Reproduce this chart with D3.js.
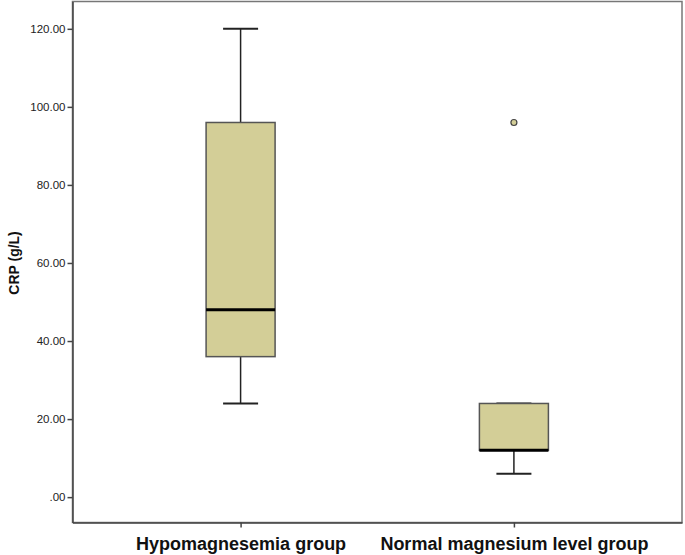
<!DOCTYPE html>
<html>
<head>
<meta charset="utf-8">
<script src="https://cdn.jsdelivr.net/npm/d3@7/dist/d3.min.js"></script>
<style>
body { margin: 0; background: #fff; }
text { font-family: "Liberation Sans", Arial, sans-serif; }
</style>
</head>
<body>
<svg id="chart" width="685" height="555"></svg>
<script>
// box plot data
var groups = ["Hypomagnesemia group", "Normal magnesium level group"];
var whiskerLow = [24, 6];
var q1 = [36, 12];
var median = [48, 12];
var q3 = [96, 24];
var whiskerHigh = [120, 24];
var outliers = [[], [96]];
var yTicks = [0, 20, 40, 60, 80, 100, 120];

var svg = d3.select("#chart");
var pLeft = 72.5, pRight = 682, pTop = 1.5, pBottom = 522.5;

var y = d3.scaleLinear().domain([-6.5, 127]).range([pBottom, pTop]);
var x = d3.scalePoint().domain(groups).range([pLeft, pRight]).padding(0.615);

var fill = "#d3ce97";
var boxW = 69, capW = 35;

// frame
svg.append("rect")
	.attr("x", pLeft).attr("y", pTop)
	.attr("width", pRight - pLeft).attr("height", pBottom - pTop)
	.attr("fill", "none").attr("stroke", "#777").attr("stroke-width", 1.5);

// y axis
var yAxis = svg.append("g")
	.attr("transform", "translate(" + pLeft + ",0)")
	.call(d3.axisLeft(y).tickValues(yTicks).tickSize(5).tickSizeOuter(0).tickPadding(2)
		.tickFormat(function(d){ return d == 0 ? ".00" : d3.format(".2f")(d); }));
yAxis.select(".domain").attr("stroke", "#444").attr("stroke-width", 1.5);
yAxis.selectAll(".tick line").attr("stroke", "#444").attr("stroke-width", 1.5);
yAxis.selectAll(".tick text").attr("font-size", 11.5).attr("fill", "#222");

// x axis
var xAxis = svg.append("g")
	.attr("transform", "translate(0," + pBottom + ")")
	.call(d3.axisBottom(x).tickSize(5).tickSizeOuter(0).tickPadding(10));
xAxis.select(".domain").attr("stroke", "#444").attr("stroke-width", 1.5);
xAxis.selectAll(".tick line").attr("stroke", "#444").attr("stroke-width", 1.5);
xAxis.selectAll(".tick text").attr("font-size", 18).attr("font-weight", "bold").attr("fill", "#111");

// y label
svg.append("text")
	.attr("transform", "translate(19," + y(60) + ") rotate(-90)")
	.attr("text-anchor", "middle")
	.attr("font-size", 14).attr("font-weight", "bold").attr("fill", "#111")
	.text("CRP (g/L)");

// boxes
groups.forEach(function(g, i){
	var cx = x(g);
	var grp = svg.append("g");
	// whiskers
	grp.append("line")
		.attr("x1", cx).attr("x2", cx)
		.attr("y1", y(q3[i])).attr("y2", y(whiskerHigh[i]))
		.attr("stroke", "#222").attr("stroke-width", 1.5);
	grp.append("line")
		.attr("x1", cx).attr("x2", cx)
		.attr("y1", y(q1[i])).attr("y2", y(whiskerLow[i]))
		.attr("stroke", "#222").attr("stroke-width", 1.5);
	[whiskerHigh[i], whiskerLow[i]].forEach(function(v){
		grp.append("line")
			.attr("x1", cx - capW/2).attr("x2", cx + capW/2)
			.attr("y1", y(v)).attr("y2", y(v))
			.attr("stroke", "#222").attr("stroke-width", 2);
	});
	// box
	grp.append("rect")
		.attr("x", cx - boxW/2).attr("width", boxW)
		.attr("y", y(q3[i])).attr("height", y(q1[i]) - y(q3[i]))
		.attr("fill", fill).attr("stroke", "#555").attr("stroke-width", 1.5);
	// median
	grp.append("line")
		.attr("x1", cx - boxW/2).attr("x2", cx + boxW/2)
		.attr("y1", y(median[i])).attr("y2", y(median[i]))
		.attr("stroke", "#000").attr("stroke-width", 3);
	// outliers
	outliers[i].forEach(function(v){
		grp.append("circle")
			.attr("cx", cx).attr("cy", y(v)).attr("r", 3)
			.attr("fill", fill).attr("stroke", "#444").attr("stroke-width", 1.2);
	});
});
</script>
</body>
</html>
